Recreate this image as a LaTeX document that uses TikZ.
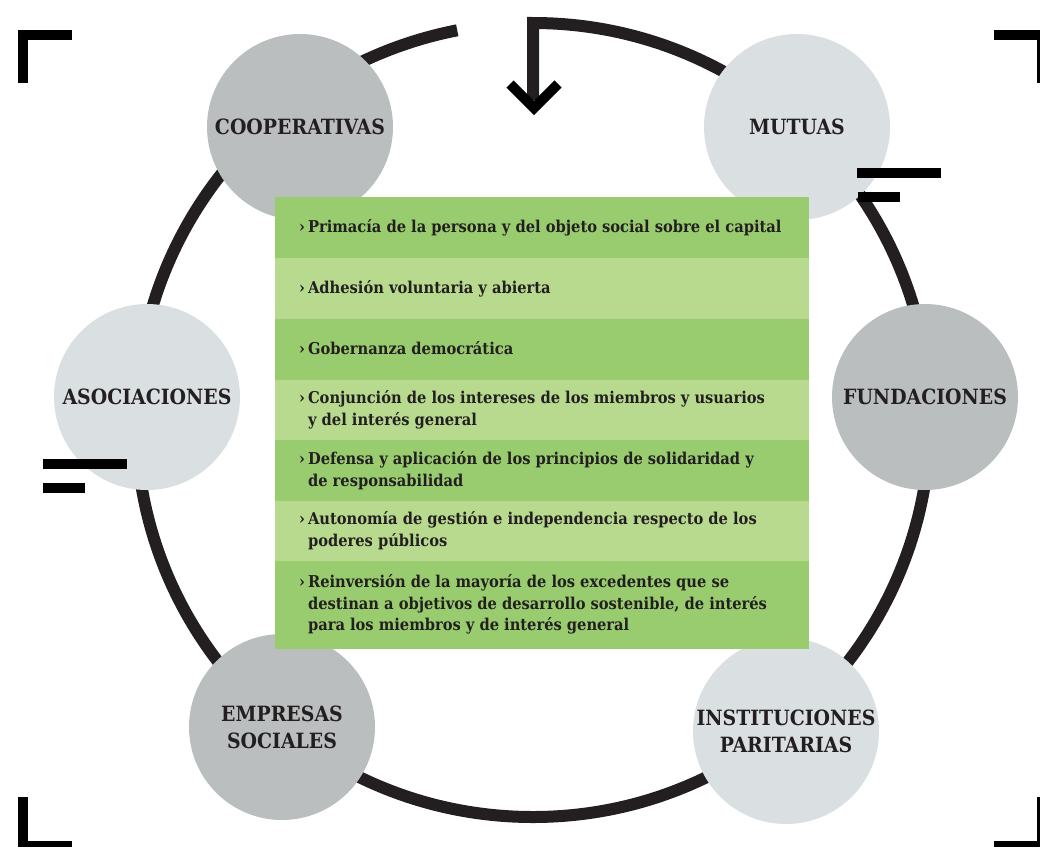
\documentclass[tikz,border=0pt]{standalone}
\usepackage{fontspec}
\setmainfont{DejaVu Serif Condensed}[BoldFont={DejaVu Serif Condensed Bold}]
\newfontfamily\labfont{DejaVu Serif Condensed}[BoldFont={DejaVu Serif Condensed Bold}]
\usetikzlibrary{calc}
\definecolor{ringc}{HTML}{231F20}
\definecolor{darkg}{HTML}{BBBEBF}
\definecolor{lightg}{HTML}{DADFE1}
\definecolor{greenA}{HTML}{98CC6E}
\definecolor{greenB}{HTML}{B8DA8E}
\definecolor{txt}{HTML}{231F20}
\tikzset{
  bubble/.style={circle, minimum size=186pt, inner sep=0pt, align=center,
    font=\labfont\bfseries\fontsize{21}{27}\selectfont, text=txt},
  dark/.style={bubble, fill=darkg},
  light/.style={bubble, fill=lightg},
  ring/.style={line width=12pt, draw=ringc, line join=miter},
  bar/.style={fill=black},
  item/.style={anchor=west, inner sep=0pt, text=txt, font=\bfseries\fontsize{16.3}{21.5}\selectfont},
  rowA/.style={fill=greenA},
  rowB/.style={fill=greenB}
}
\newcommand{\itm}[1]{\begin{tabular}{@{}l@{\hspace{3pt}}p{490pt}@{}}›&#1\end{tabular}}
\begin{document}
\begin{tikzpicture}[x=1pt,y=-1pt]
\useasboundingbox (0,0) rectangle (1040,847);
% ring with arrow
\coordinate (c) at (533,420);
\coordinate (arrEnd) at (533,100);
\draw[ring] (arrEnd) -- ($(c)+(-90:397)$) arc[start angle=-90, end angle=259, radius=397];
\draw[line width=10pt, draw=black, line join=miter] (510,84) -- (534,108) -- (558,84);
% circles
\node[dark] (coop) at (300,127) {COOPERATIVAS};
\node[light] (mut) at (797,127) {MUTUAS};
\node[light] (asoc) at (147,397) {ASOCIACIONES};
\node[dark] (fund) at (925,397) {FUNDACIONES};
\node[dark] (emp) at (282,727) {EMPRESAS\\SOCIALES};
\node[light] (inst) at (786,731) {INSTITUCIONES\\PARITARIAS};
% green rows
\fill[rowA] (275,197) rectangle (809,258);
\fill[rowB] (275,258) rectangle (809,319);
\fill[rowA] (275,319) rectangle (809,380);
\fill[rowB] (275,380) rectangle (809,440);
\fill[rowA] (275,440) rectangle (809,501);
\fill[rowB] (275,501) rectangle (809,561);
\fill[rowA] (275,561) rectangle (809,649);
\node[item] (i1) at (299,228) {\itm{Primacía de la persona y del objeto social sobre el capital}};
\node[item] (i2) at (299,289) {\itm{Adhesión voluntaria y abierta}};
\node[item] (i3) at (299,350) {\itm{Gobernanza democrática}};
\node[item] (i4) at (299,410) {\itm{Conjunción de los intereses de los miembros y usuarios\newline y del interés general}};
\node[item] (i5) at (299,471) {\itm{Defensa y aplicación de los principios de solidaridad y\newline de responsabilidad}};
\node[item] (i6) at (299,531) {\itm{Autonomía de gestión e independencia respecto de los\newline poderes públicos}};
\node[item] (i7) at (299,605) {\itm{Reinversión de la mayoría de los excedentes que se\newline destinan a objetivos de desarrollo sostenible, de interés\newline para los miembros y de interés general}};
% decorative bars
\fill[bar] (857,168) rectangle (941,178);
\fill[bar] (858,192) rectangle (900,202);
\fill[bar] (43,459) rectangle (127,469);
\fill[bar] (43,483) rectangle (85,493);
% corner brackets
\fill[bar] (18,30) rectangle (72,40);
\fill[bar] (18,30) rectangle (28,83);
\fill[bar] (994,30) rectangle (1040,40);
\fill[bar] (1037,30) rectangle (1040,83);
\fill[bar] (18,797) rectangle (28,847);
\fill[bar] (18,841) rectangle (72,847);
\fill[bar] (1037,797) rectangle (1040,847);
\fill[bar] (994,841) rectangle (1040,847);
\end{tikzpicture}
\end{document}
